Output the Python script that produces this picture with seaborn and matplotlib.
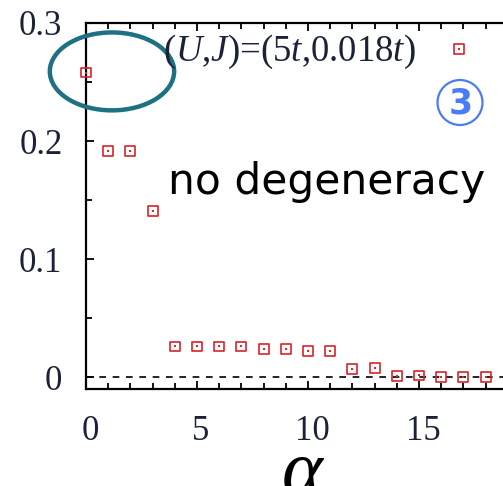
import matplotlib
matplotlib.use("Agg")
import matplotlib.pyplot as plt
from matplotlib.patches import Ellipse
from matplotlib.ticker import MultipleLocator
from matplotlib.transforms import ScaledTranslation
import seaborn as sns
import pandas as pd

# Spectrum index alpha and the corresponding values
alpha = [0, 1, 2, 3, 4, 5, 6, 7, 8, 9, 10, 11, 12, 13, 14, 15, 16, 17, 18, 16.8]
value = [0.258, 0.1915, 0.1915, 0.1407, 0.026, 0.026, 0.026, 0.026, 0.024, 0.024,
         0.022, 0.022, 0.0068, 0.0076, 0.0012, 0.0015, 0.0, 0.0, 0.0, 0.278]

x_ticks = [0, 5, 10, 15]
y_ticks = [0, 0.1, 0.2, 0.3]
y_tick_labels = ["0", "0.1", "0.2", "0.3"]

df = pd.DataFrame({"alpha": alpha, "value": value})

sns.set_style("white")
plt.rcParams["font.family"] = ["Liberation Serif", "DejaVu Serif"]
plt.rcParams["mathtext.fontset"] = "custom"
plt.rcParams["mathtext.rm"] = "Liberation Serif"
plt.rcParams["mathtext.it"] = "Liberation Serif:italic"

W, H = 503, 486
fig = plt.figure(figsize=(W / 100, H / 100), dpi=100)
ax = fig.add_axes([86 / W, (H - 389) / H, (530 - 86) / W, (389 - 23) / H])

red = "#d8242a"
ink = "#1a2238"
blue = "#4a7cf7"

ax.axhline(0, color="black", lw=1.2, ls=(0, (4, 4)), zorder=1)

sns.scatterplot(data=df, x="alpha", y="value", ax=ax, marker="s", s=50,
                facecolor="none", edgecolor=red, linewidth=1.2, zorder=3,
                clip_on=False, legend=False)
sns.scatterplot(data=df, x="alpha", y="value", ax=ax, marker="s", s=2,
                color=red, linewidth=0, zorder=4, clip_on=False, legend=False)

ax.set_xlim(0, 20)
ax.set_ylim(-0.01, 0.3)
ax.set_xticks(x_ticks)
ax.set_yticks(y_ticks)
ax.set_yticklabels(y_tick_labels)
ax.xaxis.set_minor_locator(MultipleLocator(1))
ax.yaxis.set_minor_locator(MultipleLocator(0.05))
ax.tick_params(which="both", direction="in", top=True, bottom=True, left=True,
               right=False, color="black", width=1.3)
ax.tick_params(which="major", length=6)
ax.tick_params(which="minor", length=4)
ax.tick_params(axis="x", which="major", pad=19, labelsize=25, labelcolor=ink)
ax.tick_params(axis="y", which="major", pad=17, labelsize=25, labelcolor=ink)

# nudge the x tick labels slightly to the right
shift = ScaledTranslation(4 / 100, 0, fig.dpi_scale_trans)
for lab in ax.get_xticklabels():
    lab.set_transform(lab.get_transform() + shift)

for side in ["left", "bottom", "top"]:
    ax.spines[side].set_visible(True)
    ax.spines[side].set_color("black")
    ax.spines[side].set_linewidth(1.6)
ax.spines["right"].set_visible(False)

ax.set_xlabel("")
ax.set_ylabel("")
fig.text(302 / W, -8 / H, "α", fontsize=56, style="italic",
         family="Liberation Serif", color="black", ha="center", va="baseline")

fig.text(163 / W, 1 - 52 / H, "$(U{,}J)$=(5$t$,0.018$t$)",
         fontsize=26.5, color=ink, ha="left", va="center")

fig.text(168 / W, 1 - 182 / H, "no degeneracy", fontsize=30.5, color="black",
         ha="left", va="center", family="DejaVu Sans")

fig.add_artist(Ellipse((460 / W, 1 - 102.5 / H), width=45 / W, height=45 / H,
                       transform=fig.transFigure, fill=True, fc="white",
                       ec=blue, lw=1.6))
fig.text(461 / W, 1 - 103 / H, "3", fontsize=25, fontweight="bold", color=blue,
         ha="center", va="center", family="DejaVu Sans")

ax.add_patch(Ellipse((1.17, 0.259), width=5.6, height=0.066, fill=False,
                     ec="#1e7183", lw=3.2, clip_on=False, zorder=5))

fig.savefig("out.png", dpi=100)
